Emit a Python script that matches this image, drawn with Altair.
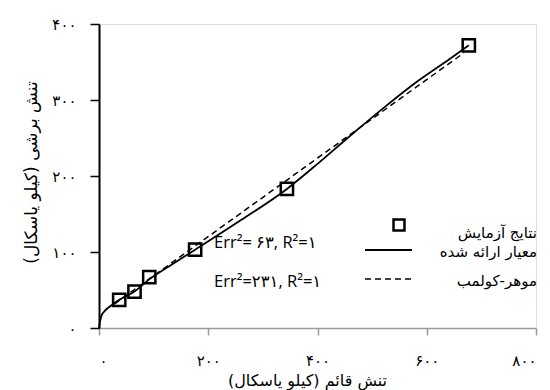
import altair as alt
import pandas as pd

# ---------------- data ----------------
exp_sigma = [37, 65, 92, 176, 344, 677]
exp_tau = [37, 48, 67, 103, 183, 372]

prop_sigma = [0, 2, 5, 10, 14, 23, 37, 65, 92, 130, 176, 260, 344, 400, 460, 520, 580, 640, 677]
prop_tau = [0, 9, 17, 22, 25, 30, 37, 48, 64, 82, 103, 142, 183, 216, 253, 289, 323, 353, 372]

mc_sigma = [28, 668]
mc_tau = [31.5, 362]

x_ticks = [0, 200, 400, 600, 800]
x_tick_labels = ["۰", "۲۰۰", "۴۰۰", "۶۰۰", "۸۰۰"]
y_ticks = [0, 100, 200, 300, 400]
y_tick_labels = ["۰", "۱۰۰", "۲۰۰", "۳۰۰", "۴۰۰"]

RLM = "\u200f"
x_title = RLM + "تنش قائم (کیلو یاسکال)" + RLM
y_title = RLM + "تنش برشی (کیلو یاسکال)" + RLM
legend_labels = [RLM + "نتایج آزمایش" + RLM,
                 RLM + "معیار ارائه شده" + RLM,
                 RLM + "موهر-کولمب" + RLM]
err_labels = ["Err²= ۶۳, R²=۱", "Err²=۲۳۱, R²=۱"]

FA = "DejaVu Sans"
LAT = "Open Sans, DejaVu Sans"


def label_expr(vals, labs):
    expr = "''"
    for v, l in reversed(list(zip(vals, labs))):
        expr = f"datum.value == {v} ? '{l}' : ({expr})"
    return expr


exp_df = pd.DataFrame({"sigma": exp_sigma, "tau": exp_tau})
prop_df = pd.DataFrame({"sigma": prop_sigma, "tau": prop_tau})
mc_df = pd.DataFrame({"sigma": mc_sigma, "tau": mc_tau})

xs = alt.Scale(domain=[0, 800], nice=False)
ys = alt.Scale(domain=[0, 400], nice=False)

x_axis = alt.Axis(
    values=x_ticks, labelExpr=label_expr(x_ticks, x_tick_labels),
    title=x_title, grid=False, domainColor="#9a9a9a", domainWidth=1.5,
    tickColor="#9a9a9a", tickWidth=1.5, tickSize=7, labelPadding=18,
    labelFont=FA, labelFontSize=15, labelColor="black",
    titleFont=FA, titleFontSize=16, titleFontWeight="normal", titleColor="black",
    titleX=208, titleY=52, titleBaseline="middle", titleAlign="center",
)
y_axis = alt.Axis(
    values=y_ticks, labelExpr=label_expr(y_ticks, y_tick_labels),
    title=y_title, grid=False, domainColor="black", domainWidth=2,
    tickColor="black", tickWidth=1.5, tickSize=9, labelPadding=14,
    labelFont=FA, labelFontSize=15, labelColor="black",
    titleFont=FA, titleFontSize=17, titleFontWeight="normal", titleColor="black",
    titleX=-68, titleY=148, titleAngle=270, titleBaseline="middle", titleAlign="center",
)

solid = alt.Chart(prop_df).mark_line(color="black", strokeWidth=1.8, interpolate="monotone").encode(
    x=alt.X("sigma:Q", scale=xs, axis=x_axis),
    y=alt.Y("tau:Q", scale=ys, axis=y_axis),
)
dashed = alt.Chart(mc_df).mark_line(color="black", strokeWidth=1.5, strokeDash=[6, 4]).encode(
    x=alt.X("sigma:Q", scale=xs),
    y=alt.Y("tau:Q", scale=ys),
)
pts = alt.Chart(exp_df).mark_point(shape="square", size=150, filled=False, color="black",
                                   strokeWidth=2.5, opacity=1).encode(
    x=alt.X("sigma:Q", scale=xs),
    y=alt.Y("tau:Q", scale=ys),
)

one = pd.DataFrame({"k": [0]})


def txt(label, x, y, align, font, size):
    return alt.Chart(pd.DataFrame({"label": [label]})).mark_text(
        align=align, baseline="middle", font=font, fontSize=size, color="black"
    ).encode(text="label:N", x=alt.value(x), y=alt.value(y))


leg_sq = alt.Chart(one).mark_point(shape="square", size=120, filled=False, color="black",
                                   strokeWidth=2.5, opacity=1).encode(
    x=alt.value(300), y=alt.value(201))
leg_solid = alt.Chart(one).mark_rule(color="black", strokeWidth=1.8).encode(
    x=alt.value(266), x2=alt.value(313), y=alt.value(226))
leg_dash = alt.Chart(one).mark_rule(color="black", strokeWidth=1.5, strokeDash=[6, 4]).encode(
    x=alt.value(266), x2=alt.value(313), y=alt.value(255))

layers = [
    solid, dashed, pts,
    leg_sq, leg_solid, leg_dash,
    txt(legend_labels[0], 438, 209, "right", FA, 15),
    txt(legend_labels[1], 438, 228, "right", FA, 15),
    txt(legend_labels[2], 438, 257, "right", FA, 15),
    txt(err_labels[0], 115, 219, "left", LAT, 16.5),
    txt(err_labels[1], 115, 258, "left", LAT, 16.5),
]

chart = alt.layer(*layers).properties(
    width=437, height=304,
    autosize=alt.AutoSizeParams(type="none"),
    padding={"left": 99, "top": 24, "right": 14, "bottom": 62},
).configure_view(stroke=None).configure(background="white")

chart.save("out.html", embed_options={"renderer": "svg", "actions": False})
